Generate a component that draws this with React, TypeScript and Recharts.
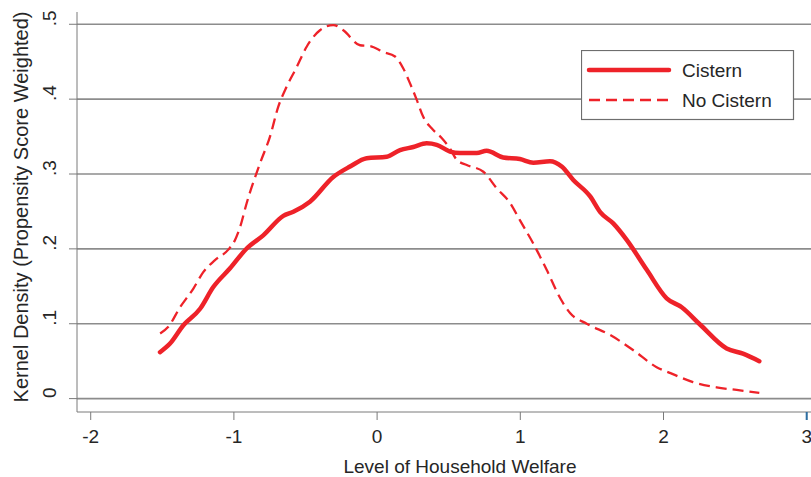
import React from 'react'
import {
  LineChart,
  Line,
  XAxis,
  YAxis,
  ReferenceLine,
} from 'recharts'

// Cistern (solid) kernel density
const cisternX = [
  -1.516, -1.446, -1.353, -1.236, -1.144, -1.027, -0.911, -0.795, -0.655, -0.585,
  -0.469, -0.306, -0.189, -0.073, 0.067, 0.16, 0.253, 0.346, 0.416, 0.509,
  0.579, 0.696, 0.765, 0.881, 0.997, 1.091, 1.207, 1.289, 1.37, 1.488,
  1.558, 1.649, 1.743, 1.883, 2.022, 2.127, 2.255, 2.441, 2.555, 2.669,
]
const cisternY = [
  0.062, 0.0735, 0.098, 0.12, 0.149, 0.174, 0.2005, 0.218, 0.244, 0.2495,
  0.263, 0.296, 0.31, 0.321, 0.323, 0.332, 0.336, 0.341, 0.339, 0.33,
  0.328, 0.328, 0.331, 0.322, 0.32, 0.315, 0.317, 0.31, 0.292, 0.27,
  0.249, 0.234, 0.212, 0.172, 0.134, 0.122, 0.099, 0.067, 0.06, 0.05,
]

// No Cistern (dashed)
const noCisternX = [
  -1.515, -1.458, -1.376, -1.283, -1.214, -1.132, -1.039, -0.992, -0.957, -0.911,
  -0.818, -0.748, -0.69, -0.631, -0.561, -0.492, -0.399, -0.306, -0.236, -0.119,
  -0.05, 0.043, 0.125, 0.183, 0.23, 0.277, 0.323, 0.381, 0.451, 0.509,
  0.556, 0.626, 0.742, 0.835, 0.93, 0.998, 1.091, 1.184, 1.279, 1.349,
  1.464, 1.627, 1.787, 1.952, 2.049, 2.206, 2.371, 2.534, 2.669,
]
const noCisternY = [
  0.087, 0.096, 0.122, 0.147, 0.169, 0.185, 0.199, 0.212, 0.229, 0.261,
  0.314, 0.35, 0.39, 0.417, 0.443, 0.47, 0.492, 0.499, 0.492, 0.472,
  0.471, 0.463, 0.457, 0.441, 0.421, 0.399, 0.376, 0.361, 0.348, 0.334,
  0.319, 0.312, 0.303, 0.281, 0.261, 0.238, 0.207, 0.172, 0.134, 0.114,
  0.1, 0.085, 0.065, 0.042, 0.034, 0.022, 0.015, 0.011, 0.0075,
]

const xTicks = [-2, -1, 0, 1, 2, 3]
const yTicks = [0, 0.1, 0.2, 0.3, 0.4, 0.5]
const yTickLabels = ['0', '.1', '.2', '.3', '.4', '.5']

const cisternData = cisternX.map((x, i) => ({ x, y: cisternY[i] }))
const noCisternData = noCisternX.map((x, i) => ({ x, y: noCisternY[i] }))

const RED = '#ee2229'
const FONT = '"Liberation Sans", Arial, sans-serif'
const TEXT = '#262626'

const YTick = (props: any) => {
  const { y, payload } = props
  const label = yTickLabels[yTicks.indexOf(payload.value)] ?? String(payload.value)
  return (
    <text
      transform={`translate(56,${y - 6}) rotate(-90)`}
      textAnchor="middle"
      fontSize={19}
      fontFamily={FONT}
      fill={TEXT}
    >
      {label}
    </text>
  )
}

const XTick = (props: any) => {
  const { x, y, payload } = props
  return (
    <g>
      {payload.value === 3 && (
        <line x1={x} x2={x} y1={y - 8} y2={y} stroke="#2e6fa3" strokeWidth={2} />
      )}
      <text x={x} y={y + 23} textAnchor="middle" fontSize={19} fontFamily={FONT} fill={TEXT}>
        {payload.value}
      </text>
    </g>
  )
}

const LegendBox = () => (
  <svg width={214} height={71} style={{ display: 'block' }}>
    <rect x={0.5} y={0.5} width={212} height={69} fill="#fff" stroke="#6e6e6e" strokeWidth={1.2} />
    <line x1={8} x2={88} y1={20} y2={20} stroke={RED} strokeWidth={4.5} strokeLinecap="round" />
    <line x1={8} x2={90} y1={50} y2={50} stroke={RED} strokeWidth={2.3} strokeDasharray="11 6" />
    <text x={101} y={27} fontSize={19} fontFamily={FONT} fill={TEXT}>Cistern</text>
    <text x={101} y={57} fontSize={19} fontFamily={FONT} fill={TEXT}>No Cistern</text>
  </svg>
)

export default function App() {
  return (
    <div style={{ position: 'absolute', left: 0, top: 0, width: 811, height: 477, background: '#fff', overflow: 'hidden' }}>
      <LineChart width={811} height={477} margin={{ top: 12, right: 0, left: 0, bottom: 0 }}>
        <XAxis
          type="number"
          dataKey="x"
          domain={[-2.0957, 3.03]}
          ticks={xTicks}
          allowDataOverflow
          height={65}
          stroke="#7a7a7a"
          tickSize={8}
          tickMargin={0}
          tick={<XTick />}
        />
        <YAxis
          type="number"
          dataKey="y"
          domain={[-0.0179, 0.5164]}
          ticks={yTicks}
          allowDataOverflow
          width={77}
          stroke="#7a7a7a"
          tickSize={8}
          tickMargin={0}
          tick={<YTick />}
          label={{
            value: 'Kernel Density (Propensity Score Weighted)',
            angle: -90,
            position: 'insideLeft',
            content: () => (
              <text
                transform="translate(28,207) rotate(-90)"
                textAnchor="middle"
                fontSize={20}
                fontFamily={FONT}
                fill={TEXT}
              >
                Kernel Density (Propensity Score Weighted)
              </text>
            ),
          }}
        />
        {yTicks.map((t) => (
          <ReferenceLine key={t} y={t} stroke="#8c8c8c" strokeWidth={1.6} />
        ))}
        <Line
          data={noCisternData}
          dataKey="y"
          name="No Cistern"
          type="monotone"
          stroke={RED}
          strokeWidth={2.3}
          strokeDasharray="11 6"
          dot={false}
          activeDot={false}
          isAnimationActive={false}
        />
        <Line
          data={cisternData}
          dataKey="y"
          name="Cistern"
          type="monotone"
          stroke={RED}
          strokeWidth={4.5}
          strokeLinecap="round"
          dot={false}
          activeDot={false}
          isAnimationActive={false}
        />
        <text x={460} y={473} textAnchor="middle" fontSize={19} fontFamily={FONT} fill={TEXT}>
          Level of Household Welfare
        </text>
      </LineChart>
      <div style={{ position: 'absolute', left: 581, top: 50 }}>
        <LegendBox />
      </div>
    </div>
  )
}
